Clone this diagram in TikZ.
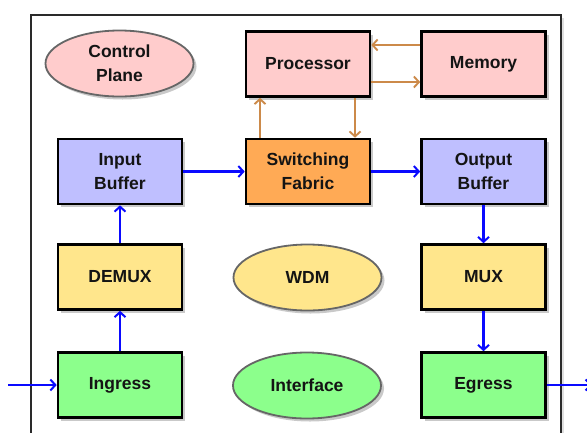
\documentclass[tikz,border=0pt]{standalone}
\usepackage{fontspec}
\setmainfont{Liberation Sans}
\usetikzlibrary{shapes.geometric,arrows.meta,shadows}

\definecolor{pinkfill}{HTML}{FFCCCC}
\definecolor{bluefill}{HTML}{BFBFFF}
\definecolor{orangefill}{HTML}{FFAA55}
\definecolor{yellowfill}{HTML}{FFE68C}
\definecolor{greenfill}{HTML}{8CFF8C}
\definecolor{ctrlbrown}{HTML}{CC8A4A}
\definecolor{datablue}{HTML}{0A0AFF}
\definecolor{framegray}{HTML}{2A2A2A}
\definecolor{ellgray}{HTML}{666666}

\tikzset{
  shade/.style={drop shadow={shadow xshift=3pt,shadow yshift=-3pt,opacity=0.35,fill=black!60}},
  block/.style={rectangle, draw=black, line width=2.6pt, minimum width=124pt,
    minimum height=65pt, inner sep=0pt, align=center, shade,
    font=\fontsize{17.5}{24}\selectfont\bfseries, text=black!92},
  oval/.style={ellipse, draw=ellgray, line width=1.8pt, inner sep=0pt,
    minimum width=148pt, minimum height=66pt, align=center, shade,
    font=\fontsize{17.5}{24}\selectfont\bfseries, text=black!92},
  dataflow/.style={draw=datablue, line width=2.4pt,
    -{Straight Barb[length=5pt,width=11pt,line width=2pt]}},
  ctrlflow/.style={draw=ctrlbrown, line width=2.2pt,
    -{Straight Barb[length=5pt,width=11pt,line width=1.9pt]}},
}

\begin{document}
\begin{tikzpicture}[x=1pt,y=-1pt]
\useasboundingbox (0,0) rectangle (587,432);

% outer frame of the node
\draw[framegray, line width=2.6pt, drop shadow={shadow xshift=3pt,shadow yshift=-3pt,opacity=0.25}, fill=white]
  (31,15) rectangle (561,445);

% control part
\node[oval, fill=pinkfill] (ctrl) at (119.5,63.5) {Control\\Plane};
\node[block, fill=pinkfill] (proc) at (308,64) {Processor};
\node[block, fill=pinkfill] (mem) at (483.5,64) {Memory};

% data path
\node[block, fill=bluefill] (inbuf) at (120,171.5) {Input\\Buffer};
\node[block, fill=orangefill] (fabric) at (308,171.5) {Switching\\Fabric};
\node[block, fill=bluefill] (outbuf) at (483.5,171.5) {Output\\Buffer};
\node[block, fill=yellowfill] (demux) at (120,277) {DEMUX};
\node[oval, fill=yellowfill] (wdm) at (307.5,277.5) {WDM};
\node[block, fill=yellowfill] (mux) at (483.5,277) {MUX};
\node[block, fill=greenfill] (ingress) at (120,385) {Ingress};
\node[oval, fill=greenfill] (iface) at (307,385.5) {Interface};
\node[block, fill=greenfill] (egress) at (483.5,385) {Egress};

\coordinate (inport) at (8,385);
\coordinate (outport) at (592,385);

% processor / memory exchange
\draw[ctrlflow] ([yshift=19pt]mem.west) -- ([yshift=19pt]proc.east);
\draw[ctrlflow] ([yshift=-18pt]proc.east) -- ([yshift=-18pt]mem.west);
\draw[ctrlflow] ([xshift=-48pt]fabric.north) -- ([xshift=-48pt]proc.south);
\draw[ctrlflow] ([xshift=47pt]proc.south) -- ([xshift=47pt]fabric.north);

% packet flow
\draw[dataflow] (inport) -- (ingress.west);
\draw[dataflow] (ingress) -- (demux);
\draw[dataflow] (demux) -- (inbuf);
\draw[dataflow] (inbuf) -- (fabric);
\draw[dataflow] (fabric) -- (outbuf);
\draw[dataflow] (outbuf) -- (mux);
\draw[dataflow] (mux) -- (egress);
\draw[dataflow] (egress.east) -- (outport);
\end{tikzpicture}
\end{document}
